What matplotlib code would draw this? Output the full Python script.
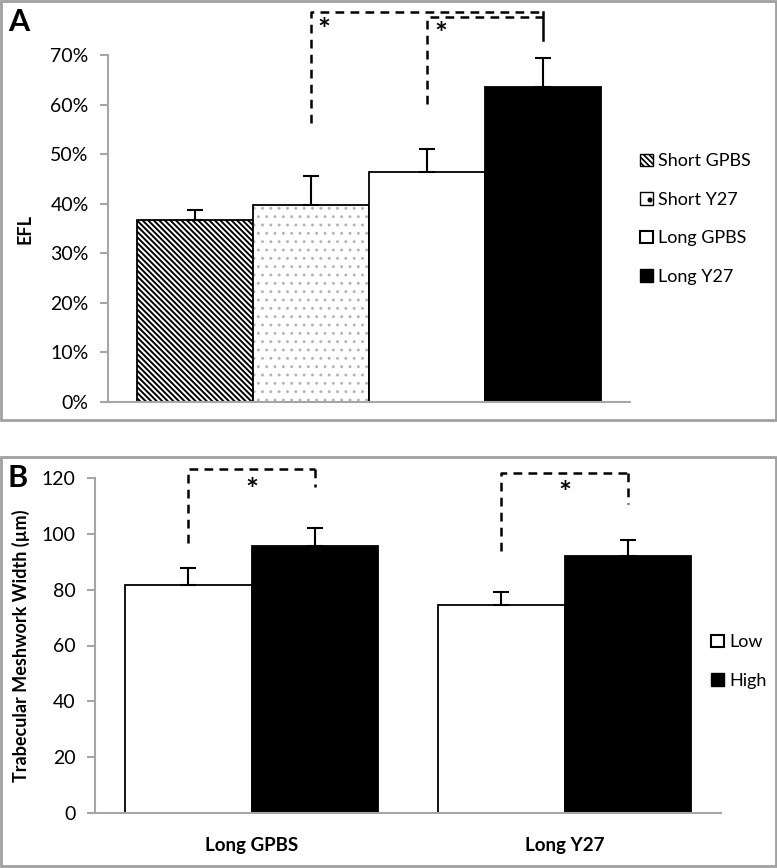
import numpy as np
import matplotlib
matplotlib.use("Agg")
import matplotlib.pyplot as plt
from matplotlib.patches import Patch, Rectangle
from matplotlib.ticker import PercentFormatter

plt.rcParams['font.family'] = ['Lato', 'DejaVu Sans']
plt.rcParams['hatch.linewidth'] = 1.5

# Panel A data (EFL fraction)
groups_a = ["Short GPBS", "Short Y27", "Long GPBS", "Long Y27"]
efl = [0.367, 0.397, 0.464, 0.635]
efl_err = [0.020, 0.059, 0.046, 0.059]

# Panel B data (trabecular meshwork width, um)
cats_b = ["Long GPBS", "Long Y27"]
low = [81.7, 74.6]
low_err = [6.0, 4.6]
high = [95.7, 92.1]
high_err = [6.4, 5.7]

GRAY = "#a6a6a6"
W, H = 777, 868

fig = plt.figure(figsize=(7.77, 8.68), dpi=100)

def px_box(left, top, right, bottom):
    # pixel box -> figure fraction [l, b, w, h]
    return [left / W, 1 - bottom / H, (right - left) / W, (bottom - top) / H]

# panel frames
for (l, t, r, b) in [(1, 1, 776, 420), (1, 457, 776, 866)]:
    fig.add_artist(Rectangle((l / W, 1 - b / H), (r - l) / W, (b - t) / H,
                             transform=fig.transFigure, fill=False,
                             edgecolor="#a0a0a0", lw=2))

def style_axes(ax):
    for s in ["top", "right"]:
        ax.spines[s].set_visible(False)
    for s in ["left", "bottom"]:
        ax.spines[s].set_color(GRAY)
        ax.spines[s].set_linewidth(1.5)
    ax.tick_params(axis="y", colors=GRAY, labelcolor="black", length=6,
                   width=1.5, labelsize=14, pad=8)
    ax.tick_params(axis="x", length=0)

DASH = (0, (3.5, 2.5))

def bracket(ax, x1, x2, y, y1, y2, right_solid=False):
    kw = dict(color="black", lw=1.8, clip_on=False)
    ax.plot([x1, x1, x2], [y1, y, y], ls=DASH, **kw)
    ax.plot([x2, x2], [y, y2], ls="-" if right_solid else DASH, **kw)

# ---------------- Panel A ----------------
axA = fig.add_axes(px_box(108, 55, 630, 402))
style_axes(axA)
xa = np.arange(len(groups_a))
STRIPE = "\\" * 6
faces = ["white", "white", "white", "black"]
for i in range(len(xa)):
    if i == 0:
        plt.rcParams['hatch.linewidth'] = 1.4
        axA.bar(xa[i], efl[i], width=1.0, color="white", edgecolor="black",
                hatch=STRIPE, lw=1.3)
    elif i == 1:
        plt.rcParams['hatch.linewidth'] = 0.9
        axA.bar(xa[i], efl[i], width=1.0, color="white", edgecolor="#b4b4b4",
                hatch="..", lw=0)
        axA.bar(xa[i], efl[i], width=1.0, fill=False, edgecolor="black", lw=1.3)
    else:
        axA.bar(xa[i], efl[i], width=1.0, color=faces[i], edgecolor="black",
                lw=1.3)
plt.rcParams['hatch.linewidth'] = 1.2
axA.errorbar(xa, efl, yerr=[np.zeros(len(efl)), efl_err], fmt="none",
             ecolor="black", elinewidth=1.5, capsize=6, capthick=1.5)
axA.set_xlim(-0.75, 3.75)
axA.set_ylim(0, 0.7)
axA.set_yticks(np.arange(0, 0.71, 0.1))
axA.yaxis.set_major_formatter(PercentFormatter(1.0, decimals=0))
axA.set_xticks([])
axA.set_ylabel("EFL", fontsize=13, fontweight="bold", labelpad=12)

bracket(axA, 1, 3, 0.787, 0.563, 0.730, right_solid=True)
bracket(axA, 2, 3, 0.777, 0.601, 0.777)
axA.text(1.11, 0.748, "*", fontsize=22, fontweight="bold", ha="center", va="center")
axA.text(2.12, 0.740, "*", fontsize=22, fontweight="bold", ha="center", va="center")

leg_handles = [
    Patch(facecolor="white", edgecolor="black", hatch=STRIPE),
    Patch(facecolor="white", edgecolor="black", hatch="."),
    Patch(facecolor="white", edgecolor="black", lw=1.5),
    Patch(facecolor="black", edgecolor="black"),
]
fig.legend(leg_handles, groups_a, loc="upper left",
           bbox_to_anchor=(624 / W, 1 - 137 / H), frameon=False,
           fontsize=13, handlelength=0.7, handleheight=0.7,
           handletextpad=0.3, labelspacing=1.25)

fig.text(8 / W, 1 - 22 / H, "A", fontsize=22, fontweight="bold", va="center")

# ---------------- Panel B ----------------
axB = fig.add_axes(px_box(95, 478, 721, 813))
style_axes(axB)
xb = np.arange(len(cats_b))
bw = 0.404
axB.bar(xb - bw / 2, low, width=bw, color="white", edgecolor="black", lw=1.3,
        label="Low")
axB.bar(xb + bw / 2, high, width=bw, color="black", edgecolor="black", lw=1.3,
        label="High")
axB.errorbar(xb - bw / 2, low, yerr=[np.zeros(2), low_err], fmt="none",
             ecolor="black", elinewidth=1.5, capsize=6, capthick=1.5)
axB.errorbar(xb + bw / 2, high, yerr=[np.zeros(2), high_err], fmt="none",
             ecolor="black", elinewidth=1.5, capsize=6, capthick=1.5)
axB.set_xlim(-0.5, 1.5)
axB.set_ylim(0, 120)
axB.set_yticks(np.arange(0, 121, 20))
axB.set_xticks(xb)
axB.set_xticklabels(cats_b, fontsize=13.5, fontweight="bold")
axB.tick_params(axis="x", pad=17, labelcolor="black")
axB.set_ylabel("Trabecular Meshwork Width (\u00b5m)", fontsize=13,
               fontweight="bold", labelpad=8)

bracket(axB, -bw / 2, bw / 2, 123.3, 96.8, 116.8)
bracket(axB, 1 - bw / 2, 1 + bw / 2, 121.9, 93.9, 110.8)
axB.text(0, 115.2, "*", fontsize=22, fontweight="bold", ha="center", va="center")
axB.text(1, 114.2, "*", fontsize=22, fontweight="bold", ha="center", va="center")

fig.legend(
    [Patch(facecolor="white", edgecolor="black", lw=1.5),
     Patch(facecolor="black", edgecolor="black")],
    ["Low", "High"], loc="upper left",
    bbox_to_anchor=(695 / W, 1 - 618 / H), frameon=False,
    fontsize=13, handlelength=0.7, handleheight=0.7,
    handletextpad=0.3, labelspacing=1.25)

fig.text(8 / W, 1 - 478 / H, "B", fontsize=22, fontweight="bold", va="center")

fig.savefig("out.png", dpi=100)
